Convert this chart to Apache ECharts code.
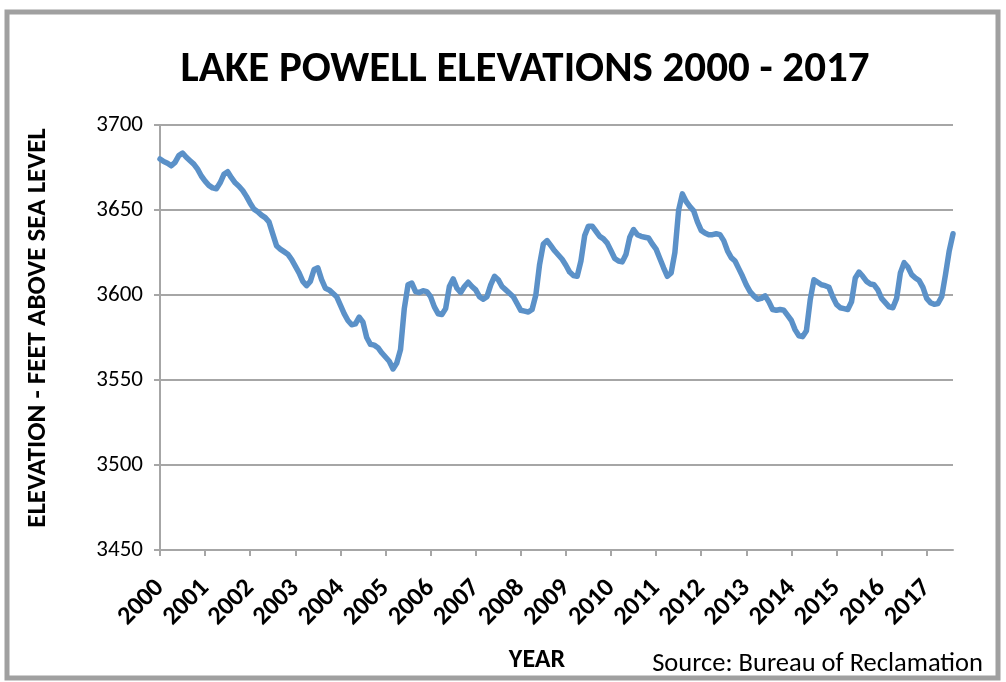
<!DOCTYPE html>
<html>
<head>
<meta charset="utf-8">
<script src="https://cdn.jsdelivr.net/npm/echarts@6/dist/echarts.min.js"></script>
<style>html,body{margin:0;padding:0;background:#fff}#c{width:1006px;height:682px}</style>
</head>
<body>
<div id="c"></div>
<script>
// Year labels (one label per January)
const years = ['2000','2001','2002','2003','2004','2005','2006','2007','2008','2009','2010','2011','2012','2013','2014','2015','2016','2017'];
const months = ['Jan','Feb','Mar','Apr','May','Jun','Jul','Aug','Sep','Oct','Nov','Dec'];
// Monthly elevations (ft above sea level), Jan 2000 .. Aug 2017
const elev2000 = [3680,3678.5,3677.5,3676,3678,3682,3683.5,3681,3679,3677,3674,3670];
const elev2001 = [3667,3664.5,3663,3662.5,3666,3671,3672.5,3669,3666,3664,3661.5,3658];
const elev2002 = [3654,3650.5,3649,3647,3645.5,3643,3636,3629,3627,3625.5,3624,3621];
const elev2003 = [3617,3613,3608,3605.5,3608,3615,3616,3609,3604,3603,3601,3599];
const elev2004 = [3594,3589,3585,3582.5,3583,3587,3584,3575,3571,3570.5,3569,3566];
const elev2005 = [3563.5,3561,3556.5,3560,3568,3592,3606,3607,3602,3601.5,3602.5,3602];
const elev2006 = [3599,3593,3589,3588.5,3592,3605,3609.5,3604,3601.5,3605,3607.5,3605];
const elev2007 = [3603,3599,3597.5,3599,3606,3611,3609,3605,3603,3601,3599,3595];
const elev2008 = [3591,3590.5,3590,3591.5,3600,3618,3630,3632,3629,3626,3623.5,3621];
const elev2009 = [3617.5,3613.5,3611.5,3611,3620,3635,3640.5,3640.5,3637.5,3634.5,3633,3630.5];
const elev2010 = [3626,3621.5,3620,3619.5,3624,3634,3638.5,3635.5,3634.5,3634,3633.5,3630];
const elev2011 = [3627,3621.5,3616,3611,3613,3625,3650,3659.5,3655,3652,3649.5,3643];
const elev2012 = [3638,3636.5,3635.5,3635.5,3636,3635.5,3632,3626,3622,3620,3615.5,3611];
const elev2013 = [3606,3602,3599.5,3597.5,3598,3599.5,3596,3591.5,3591,3591.5,3591,3588];
const elev2014 = [3585,3579.5,3576,3575.5,3579,3597,3609,3607.5,3606,3605.5,3604.5,3599];
const elev2015 = [3594.5,3592.5,3592,3591.5,3596,3610,3613.5,3611,3608,3606.5,3606,3603];
const elev2016 = [3598,3595.5,3593,3592.5,3598,3613,3619,3616.5,3612,3610,3608.5,3604.5];
const elev2017 = [3598,3595.5,3594.5,3595,3599,3612,3626,3636];
const yTicks = [3450,3500,3550,3600,3650,3700];

const elevation = [].concat(elev2000,elev2001,elev2002,elev2003,elev2004,elev2005,elev2006,elev2007,elev2008,elev2009,elev2010,elev2011,elev2012,elev2013,elev2014,elev2015,elev2016,elev2017);
const categories = elevation.map((v,i)=> years[Math.floor(i/12)] + '-' + months[i%12]);

const FONT = 'Carlito, Lato, "Liberation Sans", sans-serif';
const chart = echarts.init(document.getElementById('c'), null, {renderer:'canvas'});
const isJan = (i)=> i % 12 === 0;
chart.setOption({
  animation:false,
  backgroundColor:'#ffffff',
  grid:{left:160,right:53,top:125,bottom:132,containLabel:false},
  xAxis:{
    type:'category',
    data:categories,
    boundaryGap:false,
    axisLine:{lineStyle:{color:'#a6a6a6',width:2}},
    axisTick:{show:true,interval:(i)=>isJan(i),length:6,lineStyle:{color:'#a6a6a6',width:2}},
    axisLabel:{interval:(i)=>isJan(i),rotate:45,margin:34,color:'#000',fontFamily:FONT,fontWeight:'bold',fontSize:26,
      formatter:(v)=>v.split('-')[0]},
    splitLine:{show:false}
  },
  yAxis:{
    type:'value',min:yTicks[0],max:yTicks[yTicks.length-1],interval:50,
    axisLine:{show:true,lineStyle:{color:'#a6a6a6',width:2}},
    axisTick:{show:true,length:6,lineStyle:{color:'#a6a6a6',width:2}},
    axisLabel:{color:'#000',fontFamily:FONT,fontSize:23,margin:17,formatter:(v)=>String(v)},
    splitLine:{show:true,lineStyle:{color:'#a6a6a6',width:2}}
  },
  series:[{
    type:'line',data:elevation,showSymbol:false,symbol:'none',
    lineStyle:{color:'#5b91c8',width:5.5,join:'round',cap:'round'}
  }],
  graphic:[
    {type:'rect',shape:{x:7,y:12,width:991,height:666},style:{fill:'none',stroke:'#a0a0a0',lineWidth:5},z:-1},
    {type:'text',x:525,y:70,style:{text:'LAKE POWELL ELEVATIONS 2000 - 2017',font:'bold 43px '+FONT,fill:'#000',textAlign:'center',textVerticalAlign:'middle'}},
    {type:'text',x:38,y:328,rotation:Math.PI/2,style:{text:'ELEVATION - FEET ABOVE SEA LEVEL',font:'bold 27px '+FONT,fill:'#000',textAlign:'center',textVerticalAlign:'middle'}},
    {type:'text',x:537,y:660,style:{text:'YEAR',font:'bold 26px '+FONT,fill:'#000',textAlign:'center',textVerticalAlign:'middle'}},
    {type:'text',x:983,y:664,style:{text:'Source: Bureau of Reclamation',font:'26.5px '+FONT,fill:'#000',textAlign:'right',textVerticalAlign:'middle'}}
  ]
});
</script>
</body>
</html>
